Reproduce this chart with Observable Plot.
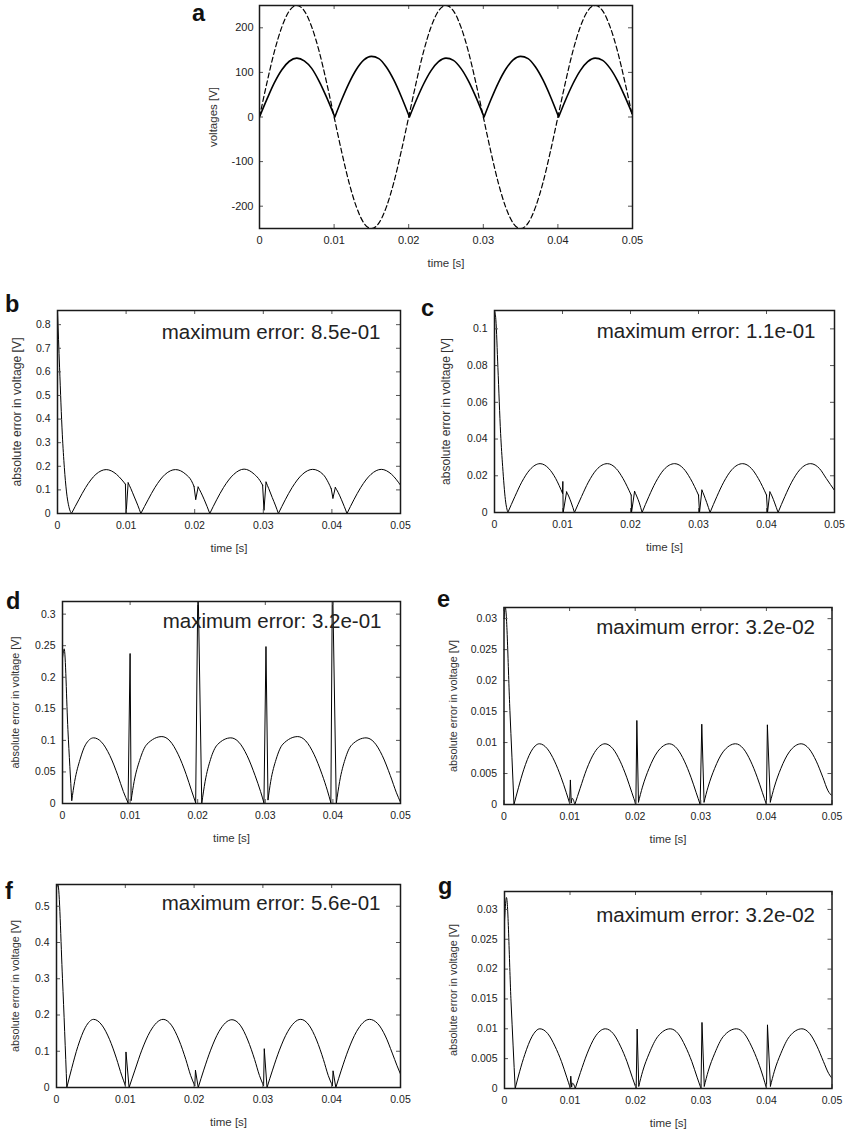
<!DOCTYPE html>
<html>
<head>
<meta charset="utf-8">
<script src="https://cdn.jsdelivr.net/npm/d3@7"></script>
<script src="https://cdn.jsdelivr.net/npm/@observablehq/plot@0.6"></script>
<style>
  html, body { margin: 0; padding: 0; background: #fff; }
  #fig { position: relative; width: 848px; height: 1133px; background: #fff; overflow: hidden;
         font-family: 'Liberation Sans', Arial, Helvetica, sans-serif; }
  .letter { position: absolute; font-weight: bold; font-size: 23.5px; line-height: 23.5px; color: #111; }
  #fig svg { position: absolute; overflow: visible; }
</style>
</head>
<body>
<div id="fig"></div>
<script>
// ---------------- data ----------------
const xTicks = [0, 0.01, 0.02, 0.03, 0.04, 0.05];
const aTicks = [-200, -100, 0, 100, 200];
const bTicks = [0, 0.1, 0.2, 0.3, 0.4, 0.5, 0.6, 0.7, 0.8];
const cTicks = [0, 0.02, 0.04, 0.06, 0.08, 0.1];
const dTicks = [0, 0.05, 0.1, 0.15, 0.2, 0.25, 0.3];
const eTicks = [0, 0.005, 0.01, 0.015, 0.02, 0.025, 0.03];
const fTicks = [0, 0.1, 0.2, 0.3, 0.4, 0.5];
const gTicks = [0, 0.005, 0.01, 0.015, 0.02, 0.025, 0.03];

const panelLetters = ["a", "b", "c", "d", "e", "f", "g"];
const maxErrors = ["8.5e-01", "1.1e-01", "3.2e-01", "3.2e-02", "5.6e-01", "3.2e-02"];

// panel a: source voltage (dashed) [time, volts]
const aSource = [
  [0,0],[0.001,77],[0.002,147],[0.003,202],[0.004,238],[0.005,250],[0.006,238],[0.007,202],[0.008,147],[0.009,77],
  [0.01,0],[0.011,-77],[0.012,-147],[0.013,-202],[0.014,-238],[0.015,-250],[0.016,-238],[0.017,-202],[0.018,-147],[0.019,-77],
  [0.02,0],[0.021,77],[0.022,147],[0.023,202],[0.024,238],[0.025,250],[0.026,238],[0.027,202],[0.028,147],[0.029,77],
  [0.03,0],[0.031,-77],[0.032,-147],[0.033,-202],[0.034,-238],[0.035,-250],[0.036,-238],[0.037,-202],[0.038,-147],[0.039,-77],
  [0.04,0],[0.041,77],[0.042,147],[0.043,202],[0.044,238],[0.045,250],[0.046,238],[0.047,202],[0.048,147],[0.049,77],[0.05,0]
];
// panel a: rectified output (solid); null = break between arches
const aOutput = [
  [0,0],[0.001,40],[0.002,77],[0.003,106],[0.004,125],[0.005,132],[0.006,126],[0.007,109],[0.008,80],[0.009,44],[0.0101,0], null,
  [0.0101,0],[0.011,38],[0.012,76],[0.013,107],[0.014,128],[0.015,136],[0.016,131],[0.017,112],[0.018,83],[0.019,46],[0.0201,0], null,
  [0.0201,0],[0.021,37],[0.022,74],[0.023,104],[0.024,124],[0.025,132],[0.026,127],[0.027,109],[0.028,81],[0.029,45],[0.0301,0], null,
  [0.0301,0],[0.031,38],[0.032,76],[0.033,107],[0.034,128],[0.035,136],[0.036,131],[0.037,112],[0.038,83],[0.039,46],[0.0401,0], null,
  [0.0401,0],[0.041,37],[0.042,74],[0.043,104],[0.044,124],[0.045,132],[0.046,127],[0.047,109],[0.048,81],[0.049,45],[0.05,6]
];

const bError = [
  [0,0.86],[0.0003,0.62],[0.0007,0.336],[0.001,0.194],[0.0013,0.095],[0.0017,0.024],[0.00204,0], null,
  [0.00204,0],[0.0031,0.058],[0.0041,0.11],[0.0056,0.166],[0.0071,0.186],[0.0086,0.166],[0.0094,0.142],[0.0099,0.124], null,
  [0.0099,0.124],[0.01,0], null,
  [0.01,0],[0.0103,0.13], null,
  [0.0103,0.13],[0.0107,0.105],[0.0112,0.07],[0.0117,0.035],[0.01215,0], null,
  [0.01215,0],[0.0132,0.058],[0.0142,0.11],[0.0157,0.166],[0.0172,0.186],[0.0187,0.166],[0.0195,0.14],[0.0199,0.115], null,
  [0.0199,0.115],[0.02015,0.06], null,
  [0.02015,0.06],[0.0205,0.112], null,
  [0.0205,0.112],[0.0209,0.09],[0.0214,0.058],[0.0218,0.03],[0.0222,0], null,
  [0.0222,0],[0.0232,0.058],[0.0242,0.11],[0.0257,0.166],[0.0272,0.188],[0.0287,0.166],[0.0295,0.14],[0.0299,0.12], null,
  [0.0299,0.12],[0.0301,0.015], null,
  [0.0301,0.015],[0.0304,0.133], null,
  [0.0304,0.133],[0.0308,0.105],[0.0313,0.068],[0.0318,0.032],[0.0322,0], null,
  [0.0322,0],[0.0332,0.058],[0.0342,0.11],[0.0357,0.166],[0.0372,0.187],[0.0387,0.166],[0.0395,0.13],[0.0399,0.105], null,
  [0.0399,0.105],[0.04015,0.065], null,
  [0.04015,0.065],[0.0405,0.11], null,
  [0.0405,0.11],[0.0409,0.09],[0.0414,0.058],[0.0418,0.03],[0.0422,0], null,
  [0.0422,0],[0.0432,0.058],[0.0442,0.11],[0.0457,0.166],[0.0472,0.187],[0.0487,0.166],[0.05,0.12]
];

const cError = [
  [0,0.11],[0.0002,0.105],[0.0005,0.079],[0.0009,0.043],[0.0012,0.025],[0.0016,0.007],[0.00196,0], null,
  [0.00196,0],[0.003,0.0087],[0.004,0.0165],[0.0052,0.0233],[0.0067,0.0266],[0.008,0.0239],[0.009,0.0185],[0.01,0.0105], null,
  [0.01,0.0105],[0.01005,0.0167], null,
  [0.01005,0.0167],[0.0101,0], null,
  [0.0101,0],[0.0106,0.0112], null,
  [0.0106,0.0112],[0.0109,0.009],[0.0113,0.0052],[0.01176,0], null,
  [0.01176,0],[0.0128,0.0087],[0.0138,0.0165],[0.015,0.0233],[0.0166,0.0266],[0.0179,0.0239],[0.0189,0.0185],[0.0201,0.0095], null,
  [0.0201,0.0095],[0.02015,0], null,
  [0.02015,0],[0.0206,0.0115], null,
  [0.0206,0.0115],[0.0209,0.009],[0.0213,0.0052],[0.0217,0], null,
  [0.0217,0],[0.0227,0.0087],[0.0237,0.0165],[0.0249,0.0233],[0.0265,0.0266],[0.0278,0.0239],[0.0288,0.0185],[0.03,0.0095], null,
  [0.03,0.0095],[0.03015,0], null,
  [0.03015,0],[0.0305,0.0122], null,
  [0.0305,0.0122],[0.0308,0.0095],[0.0312,0.0055],[0.0317,0], null,
  [0.0317,0],[0.0327,0.0087],[0.0337,0.0165],[0.0349,0.0233],[0.0365,0.0266],[0.0378,0.0239],[0.0388,0.0185],[0.04,0.0095], null,
  [0.04,0.0095],[0.04015,0], null,
  [0.04015,0],[0.0405,0.0112], null,
  [0.0405,0.0112],[0.0408,0.009],[0.0412,0.0052],[0.0417,0], null,
  [0.0417,0],[0.0427,0.0087],[0.0437,0.0165],[0.0449,0.0233],[0.0465,0.0266],[0.0478,0.0239],[0.0488,0.0185],[0.05,0.012]
];

const dError = [
  [0,0.23],[0.00025,0.245],[0.0008,0.117],[0.00137,0.005], null,
  [0.00137,0.005],[0.0018,0.035],[0.0026,0.07],[0.0034,0.093],[0.0046,0.104],[0.0058,0.097],[0.007,0.076],[0.0082,0.044],[0.009,0.019],[0.0097,0.001], null,
  [0.0097,0.001],[0.01,0.237], null,
  [0.01,0.237],[0.01015,0.005], null,
  [0.01015,0.005],[0.0106,0.035],[0.0114,0.068],[0.0125,0.094],[0.0147,0.106],[0.0159,0.099],[0.0171,0.078],[0.0183,0.046],[0.0191,0.02],[0.0197,0.001], null,
  [0.0197,0.001],[0.02,0.32], null,
  [0.0201,0.32],[0.0206,0], null,
  [0.0206,0],[0.0211,0.035],[0.0219,0.07],[0.0229,0.093],[0.0249,0.104],[0.0261,0.097],[0.0273,0.076],[0.0285,0.044],[0.0293,0.019],[0.0298,0.001], null,
  [0.0298,0.001],[0.0301,0.248], null,
  [0.0301,0.248],[0.0304,0.006], null,
  [0.0304,0.006],[0.0308,0.035],[0.0316,0.07],[0.0326,0.094],[0.0348,0.106],[0.036,0.099],[0.0372,0.078],[0.0384,0.046],[0.0392,0.02],[0.0397,0.001], null,
  [0.0397,0.001],[0.0399,0.32], null,
  [0.04,0.32],[0.0405,0], null,
  [0.0405,0],[0.041,0.035],[0.0418,0.07],[0.0428,0.093],[0.0449,0.104],[0.0461,0.097],[0.0473,0.076],[0.0485,0.044],[0.0494,0.017],[0.05,0.002]
];

const eError = [
  [0,0.03],[0.0002,0.0318],[0.0009,0.0152],[0.00152,0], null,
  [0.00152,0],[0.0022,0.0027],[0.003,0.0056],[0.0041,0.0085],[0.0054,0.0098],[0.0066,0.009],[0.0077,0.007],[0.0087,0.0044],[0.0095,0.0019],[0.01,0.0002], null,
  [0.01,0.0002],[0.01012,0.0039], null,
  [0.01012,0.0039],[0.01025,0.0003], null,
  [0.01025,0.0003],[0.0104,0.001],[0.0108,0], null,
  [0.0108,0],[0.0116,0.0026],[0.0126,0.0057],[0.0138,0.0084],[0.0154,0.0098],[0.0166,0.009],[0.0177,0.007],[0.0187,0.0044],[0.0195,0.0019],[0.0201,0], null,
  [0.0201,0],[0.02025,0.0135], null,
  [0.02025,0.0135],[0.0205,0.0004], null,
  [0.0205,0.0004],[0.0211,0.0028],[0.0221,0.0058],[0.0234,0.0085],[0.0252,0.0098],[0.0264,0.009],[0.0275,0.007],[0.0285,0.0044],[0.0293,0.0019],[0.0299,0], null,
  [0.0299,0],[0.03015,0.0129], null,
  [0.03015,0.0129],[0.0305,0.0004], null,
  [0.0305,0.0004],[0.0311,0.0028],[0.0321,0.0058],[0.0334,0.0085],[0.0353,0.0098],[0.0365,0.009],[0.0376,0.007],[0.0386,0.0044],[0.0394,0.0019],[0.04,0], null,
  [0.04,0],[0.04015,0.0128], null,
  [0.04015,0.0128],[0.0406,0.0004], null,
  [0.0406,0.0004],[0.0412,0.0028],[0.0422,0.0058],[0.0435,0.0085],[0.0453,0.0098],[0.0465,0.009],[0.0476,0.007],[0.0486,0.0044],[0.0494,0.0022],[0.05,0.0014]
];

const fError = [
  [0,0.55],[0.0002,0.56],[0.00087,0.3],[0.0015,0], null,
  [0.0015,0],[0.0022,0.052],[0.0031,0.113],[0.0042,0.166],[0.0054,0.188],[0.0066,0.172],[0.0077,0.133],[0.0087,0.081],[0.0095,0.032],[0.01,0.006], null,
  [0.01,0.006],[0.0101,0.097], null,
  [0.0101,0.097],[0.01055,0], null,
  [0.01055,0],[0.0114,0.048],[0.0124,0.103],[0.0136,0.154],[0.0155,0.188],[0.0167,0.172],[0.0178,0.131],[0.0188,0.077],[0.0195,0.033],[0.0201,0.005], null,
  [0.0201,0.005],[0.0202,0.047], null,
  [0.0202,0.047],[0.0206,0], null,
  [0.0206,0],[0.0214,0.048],[0.0224,0.103],[0.0236,0.154],[0.0255,0.187],[0.0267,0.172],[0.0278,0.131],[0.0288,0.077],[0.0295,0.033],[0.0301,0.005], null,
  [0.0301,0.005],[0.0302,0.106], null,
  [0.0302,0.106],[0.0306,0], null,
  [0.0306,0],[0.0314,0.048],[0.0324,0.103],[0.0336,0.154],[0.0355,0.188],[0.0367,0.172],[0.0378,0.131],[0.0388,0.077],[0.0395,0.033],[0.0401,0.005], null,
  [0.0401,0.005],[0.0402,0.045], null,
  [0.0402,0.045],[0.0406,0], null,
  [0.0406,0],[0.0414,0.048],[0.0424,0.103],[0.0436,0.154],[0.0455,0.188],[0.0467,0.176],[0.0478,0.142],[0.0488,0.095],[0.0495,0.06],[0.05,0.037]
];

const gError = [
  [0,0.028],[0.0003,0.032],[0.001,0.0145],[0.00163,0], null,
  [0.00163,0],[0.0023,0.0028],[0.0031,0.0057],[0.0042,0.0087],[0.0054,0.01],[0.0066,0.0092],[0.0077,0.0071],[0.0087,0.0045],[0.0095,0.0019],[0.01,0.0002], null,
  [0.01,0.0002],[0.01012,0.002], null,
  [0.01012,0.002],[0.01025,0.0003], null,
  [0.01025,0.0003],[0.0104,0.0009],[0.0108,0], null,
  [0.0108,0],[0.0116,0.0027],[0.0126,0.0058],[0.0138,0.0086],[0.0154,0.01],[0.0166,0.0092],[0.0177,0.0071],[0.0187,0.0045],[0.0195,0.0019],[0.0201,0], null,
  [0.0201,0],[0.02025,0.0099], null,
  [0.02025,0.0099],[0.0205,0.0004], null,
  [0.0205,0.0004],[0.0211,0.0029],[0.0221,0.0059],[0.0234,0.0087],[0.0253,0.01],[0.0265,0.0092],[0.0276,0.0071],[0.0286,0.0045],[0.0294,0.0019],[0.03,0], null,
  [0.03,0],[0.03015,0.011], null,
  [0.03015,0.011],[0.0305,0.0004], null,
  [0.0305,0.0004],[0.0311,0.0029],[0.0321,0.0059],[0.0334,0.0087],[0.0354,0.01],[0.0366,0.0092],[0.0377,0.0071],[0.0387,0.0045],[0.0395,0.0019],[0.04,0], null,
  [0.04,0],[0.04015,0.0106], null,
  [0.04015,0.0106],[0.0406,0.0004], null,
  [0.0406,0.0004],[0.0412,0.0029],[0.0422,0.0059],[0.0435,0.0087],[0.0454,0.01],[0.0466,0.0092],[0.0477,0.0071],[0.0487,0.0045],[0.0495,0.0025],[0.05,0.0017]
];

// ---------------- drawing ----------------
const FONT = "'Liberation Sans', Arial, Helvetica, sans-serif";
const fig = document.getElementById("fig");
const toXY = arr => arr.map(d => d ?? [NaN, NaN]);
const fmt = d => String(d);

function drawPanel(p) {
  const fw = p.frame.r - p.frame.l, fh = p.frame.b - p.frame.t;
  const marks = [];
  for (const L of p.lines) {
    marks.push(Plot.line(toXY(L.data), {
      x: d => d[0], y: d => d[1], curve: "monotone-x",
      stroke: "#000", strokeWidth: L.width, strokeDasharray: L.dash, clip: true
    }));
  }
  marks.push(
    Plot.tickX(xTicks, {x: d => d, insetTop: fh - 4, stroke: "#555", strokeWidth: 1}),
    Plot.tickX(xTicks, {x: d => d, insetBottom: fh - 4, stroke: "#555", strokeWidth: 1}),
    Plot.tickY(p.yTicks, {y: d => d, insetRight: fw - 4, stroke: "#555", strokeWidth: 1}),
    Plot.tickY(p.yTicks, {y: d => d, insetLeft: fw - 4, stroke: "#555", strokeWidth: 1}),
    Plot.frame({stroke: "#1a1a1a", strokeWidth: 1.5}),
    Plot.axisX(xTicks, {tickSize: 0, tickPadding: 8, tickFormat: fmt, fontSize: p.tickFont, color: "#222", label: null}),
    Plot.axisY(p.yTicks, {tickSize: 0, tickPadding: p.yPad, tickFormat: fmt, fontSize: p.tickFont, color: "#222", label: null}),
    Plot.text(["time [s]"], {text: d => d, frameAnchor: "bottom", textAnchor: "middle", dy: 35, lineAnchor: "middle", fontSize: 11.5, fill: "#333"}),
    Plot.text([p.yLabel], {text: d => d, frameAnchor: "left", textAnchor: "middle", rotate: -90, dx: -p.yGap, lineAnchor: "middle", fontSize: p.yLabelSize, fill: "#333"})
  );
  if (p.note) {
    marks.push(Plot.text([p.note], {
      text: d => d, frameAnchor: "top-right", textAnchor: "end", lineAnchor: "top",
      dx: -p.noteDx, dy: p.noteBase - 0.71 * 20.5, fontSize: 20.5, fill: "#222"
    }));
  }
  const svg = Plot.plot({
    width: p.box.width, height: p.box.height,
    marginLeft: p.frame.l - p.box.left,
    marginRight: p.box.left + p.box.width - p.frame.r,
    marginTop: p.frame.t - p.box.top,
    marginBottom: p.box.top + p.box.height - p.frame.b,
    x: {domain: [0, 0.05]},
    y: {domain: p.yDomain},
    style: {fontFamily: FONT, background: "transparent", overflow: "visible"},
    marks
  });
  svg.style.position = "absolute";
  svg.style.left = p.box.left + "px";
  svg.style.top = p.box.top + "px";
  fig.appendChild(svg);

  const letter = document.createElement("div");
  letter.className = "letter";
  letter.textContent = p.letter;
  letter.style.left = p.letterPos[0] + "px";
  letter.style.top = (p.letterPos[1] - 19.9) + "px";
  fig.appendChild(letter);
}

const yErrLabel = "absolute error in voltage [V]";
const panels = [
  {letter: panelLetters[0], letterPos: [192, 21.5], box: {left: 190, top: 0, width: 460, height: 275},
   frame: {l: 259, r: 632, t: 5, b: 228}, yDomain: [-250, 250], yTicks: aTicks, tickFont: 11, yPad: 6,
   yLabel: "voltages [V]", yLabelSize: 11.5, yGap: 45.7,
   lines: [{data: aSource, width: 1.2, dash: "5,3"}, {data: aOutput, width: 1.6}]},
  {letter: panelLetters[1], letterPos: [5, 313], box: {left: 0, top: 295, width: 415, height: 275},
   frame: {l: 57, r: 400, t: 310, b: 513}, yDomain: [0, 0.86], yTicks: bTicks, tickFont: 10.5, yPad: 7,
   yLabel: yErrLabel, yLabelSize: 12.2, yGap: 40, note: "maximum error: " + maxErrors[0], noteDx: 20, noteBase: 28.3,
   lines: [{data: bError, width: 1}]},
  {letter: panelLetters[2], letterPos: [421, 316.7], box: {left: 420, top: 295, width: 428, height: 275},
   frame: {l: 494, r: 834, t: 310, b: 512}, yDomain: [0, 0.11], yTicks: cTicks, tickFont: 10.5, yPad: 7,
   yLabel: yErrLabel, yLabelSize: 12, yGap: 48, note: "maximum error: " + maxErrors[1], noteDx: 19, noteBase: 27.7,
   lines: [{data: cError, width: 1}]},
  {letter: panelLetters[3], letterPos: [6, 610], box: {left: 0, top: 585, width: 415, height: 265},
   frame: {l: 62, r: 400, t: 601, b: 803}, yDomain: [0, 0.32], yTicks: dTicks, tickFont: 10.5, yPad: 7,
   yLabel: yErrLabel, yLabelSize: 10.8, yGap: 46.7, note: "maximum error: " + maxErrors[2], noteDx: 19, noteBase: 26,
   lines: [{data: dError, width: 1}]},
  {letter: panelLetters[4], letterPos: [437, 608.3], box: {left: 420, top: 585, width: 428, height: 265},
   frame: {l: 503.5, r: 831.5, t: 607, b: 804}, yDomain: [0, 0.0318], yTicks: eTicks, tickFont: 10.5, yPad: 7,
   yLabel: yErrLabel, yLabelSize: 10.8, yGap: 50.6, note: "maximum error: " + maxErrors[3], noteDx: 17, noteBase: 26.3,
   lines: [{data: eError, width: 1}]},
  {letter: panelLetters[5], letterPos: [5, 900], box: {left: 0, top: 860, width: 415, height: 273},
   frame: {l: 56, r: 400, t: 884, b: 1087}, yDomain: [0, 0.56], yTicks: fTicks, tickFont: 10.5, yPad: 7,
   yLabel: yErrLabel, yLabelSize: 10.8, yGap: 41, note: "maximum error: " + maxErrors[4], noteDx: 20, noteBase: 25.3,
   lines: [{data: fError, width: 1}]},
  {letter: panelLetters[6], letterPos: [438, 895.3], box: {left: 420, top: 860, width: 428, height: 273},
   frame: {l: 504, r: 831.5, t: 891, b: 1088}, yDomain: [0, 0.033], yTicks: gTicks, tickFont: 10.5, yPad: 7,
   yLabel: yErrLabel, yLabelSize: 10.8, yGap: 51.3, note: "maximum error: " + maxErrors[5], noteDx: 17, noteBase: 30,
   lines: [{data: gError, width: 1}]}
];

panels.forEach(drawPanel);
</script>
</body>
</html>
